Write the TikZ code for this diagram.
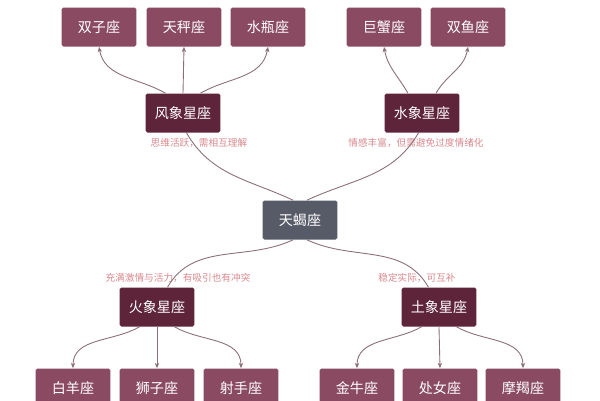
\documentclass[tikz,border=0pt]{standalone}
\usepackage{fontspec}
\setmainfont{Noto Sans CJK SC}
\usetikzlibrary{arrows.meta}
\definecolor{leaf}{HTML}{8A4A62}
\definecolor{grp}{HTML}{5E2439}
\definecolor{mid}{HTML}{575B68}
\definecolor{edge}{HTML}{8C6E79}
\definecolor{lbl}{HTML}{D98A8F}
\begin{document}
\begin{tikzpicture}[x=0.02cm,y=-0.02cm,
  box/.style={draw=none,text=white,minimum width=1.5cm,minimum height=0.78cm,rounded corners=1pt,font=\fontsize{8}{9}\selectfont},
  leafbox/.style={box,fill=leaf},
  grpbox/.style={box,fill=grp},
  midbox/.style={box,fill=mid},
  lab/.style={text=lbl,font=\fontsize{5.5}{6}\selectfont},
  con/.style={draw=edge,line width=0.5pt,-{Stealth[length=3pt,width=2.5pt]}},
  lnk/.style={draw=edge,line width=0.5pt}]
\useasboundingbox (0,0) rectangle (600,400);
\fill[white] (0,0) rectangle (600,400);
\node[leafbox] (sz) at (99,27) {双子座};
\node[leafbox] (tp) at (184,27) {天秤座};
\node[leafbox] (sp) at (268,27) {水瓶座};
\node[leafbox] (jx) at (384,27) {巨蟹座};
\node[leafbox] (sy) at (468,27) {双鱼座};
\node[grpbox] (fx) at (183,113) {风象星座};
\node[grpbox] (sx) at (422,113) {水象星座};
\node[midbox] (tx) at (300,220) {天蝎座};
\node[grpbox] (hx) at (157,307) {火象星座};
\node[grpbox] (tu) at (439,307) {土象星座};
\node[leafbox] (by) at (73,388) {白羊座};
\node[leafbox] (szi) at (157,388) {狮子座};
\node[leafbox] (ss) at (241,388) {射手座};
\node[leafbox] (jn) at (357,388) {金牛座};
\node[leafbox] (cn) at (440,388) {处女座};
\node[leafbox] (mj) at (523,388) {摩羯座};
\node[lab] (l1) at (199,143) {思维活跃，需相互理解};
\node[lab] (l2) at (416,143) {情感丰富，但需避免过度情绪化};
\node[lab] (l3) at (178,278) {充满激情与活力，有吸引也有冲突};
\node[lab] (l4) at (417,278) {稳定实际，可互补};
% top
\draw[con] ([xshift=-10pt]fx.north) to[out=150,in=-80] (sz.south);
\draw[con] (fx.north) -- (tp.south);
\draw[con] ([xshift=10pt]fx.north) to[out=30,in=-100] (sp.south);
\draw[con] ([xshift=-8pt]sx.north) to[out=120,in=-80] (jx.south);
\draw[con] ([xshift=8pt]sx.north) to[out=60,in=-100] (sy.south);
% center
\draw[lnk] ([xshift=-4pt]tx.north) to[out=155,in=-60] ([xshift=2pt]fx.south);
\draw[lnk] ([xshift=4pt]tx.north) to[out=25,in=-120] ([xshift=-2pt]sx.south);
\draw[lnk] ([xshift=-4pt]tx.south) to[out=-155,in=60] ([xshift=6pt]hx.north);
\draw[lnk] ([xshift=4pt]tx.south) to[out=-25,in=120] ([xshift=-6pt]tu.north);
% bottom
\draw[con] ([xshift=-10pt]hx.south) to[out=-150,in=90] (by.north);
\draw[con] (hx.south) -- (szi.north);
\draw[con] ([xshift=10pt]hx.south) to[out=-30,in=90] (ss.north);
\draw[con] ([xshift=-10pt]tu.south) to[out=-150,in=90] (jn.north);
\draw[con] (tu.south) -- (cn.north);
\draw[con] ([xshift=10pt]tu.south) to[out=-30,in=90] (mj.north);
\end{tikzpicture}
\end{document}
